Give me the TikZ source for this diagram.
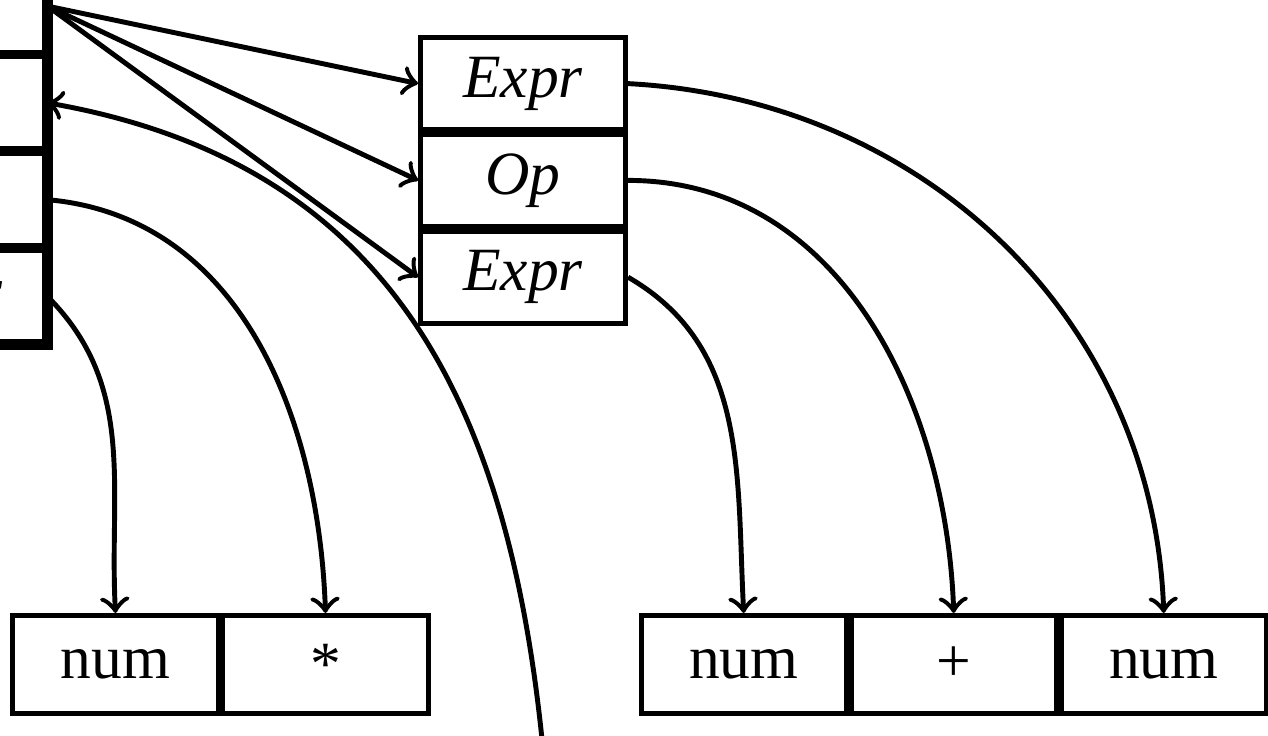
\documentclass[tikz,border=0pt]{standalone}
\usepackage{fontspec}
\setmainfont{Liberation Serif}
\usetikzlibrary{positioning}
\tikzset{
	cell/.style={draw,thick,minimum width=1.172cm,minimum height=0.525cm,inner sep=0pt},
	leaf/.style={cell,minimum height=0.56cm}
}
\begin{document}
\begin{tikzpicture}
	\useasboundingbox (0,0) rectangle (7.246,-4.206);
	% stack on the left
	\node[cell] (l1) at (-0.329,-0.035) {\textit{Expr}};
	\node[cell,below=0pt of l1] (l2) {};
	\node[cell,below=0pt of l2] (l3) {};
	\node[cell,below=0pt of l3] (l4) {\textit{Expr}};
	\draw[line width=1.8pt] (l1.east |- 0,0.2) -- (l4.south east) -- (l4.south west);
	% production
	\node[cell] (r1) at (2.989,-0.478) {\textit{Expr}};
	\node[cell,below=0pt of r1] (r2) {\textit{Op}};
	\node[cell,below=0pt of r2] (r3) {\textit{Expr}};
	% tokens
	\node[leaf] (n1) at (0.66,-3.797) {num};
	\node[leaf,right=0pt of n1] (star) {*};
	\node[leaf] (n2) at (4.25,-3.797) {num};
	\node[leaf,right=0pt of n2] (plus) {+};
	\node[leaf,right=0pt of plus] (n3) {num};
	\coordinate (tail) at (3.114,-4.4);
	\draw[thick,->] (l1.east) -- (r1.west);
	\draw[thick,->] (l1.east) -- (r2.west);
	\draw[thick,->] (l1.east) -- (r3.west);
	\draw[thick,->] (tail) to[out=95,in=-10,looseness=1.1] (l2.east);
	\draw[thick,->] (l3.east) to[out=-5,in=92] (star.north);
	\draw[thick,->] (l4.east) to[out=-45,in=93] (n1.north);
	\draw[thick,->] (r1.east) to[out=-3,in=92] (n3.north);
	\draw[thick,->] (r2.east) to[out=0,in=92] (plus.north);
	\draw[thick,->] (r3.east) to[out=-30,in=93] (n2.north);
\end{tikzpicture}
\end{document}
